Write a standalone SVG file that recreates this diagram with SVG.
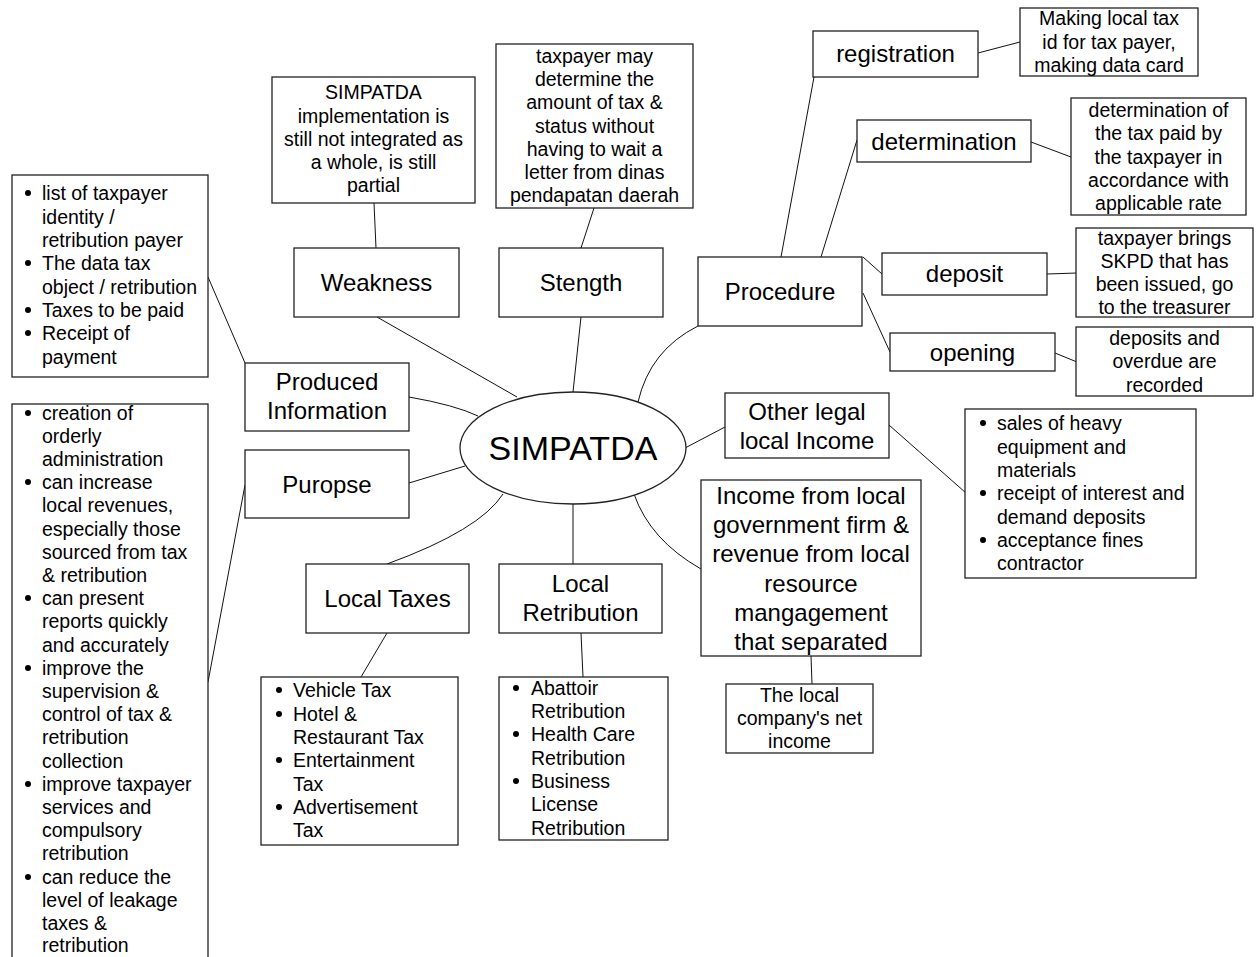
<svg xmlns="http://www.w3.org/2000/svg" width="1257" height="957" viewBox="0 0 1257 957">
<style>
.b{fill:#fff;stroke:#222;stroke-width:1.3}
.c{fill:none;stroke:#111;stroke-width:1}
text{font-family:"Liberation Sans",Arial,sans-serif;fill:#000}
.L{font-size:24px;text-anchor:middle;dominant-baseline:central}
.s{font-size:19.5px;text-anchor:middle;dominant-baseline:central}
.t{font-size:19.5px;dominant-baseline:central}
.big{font-size:34px;text-anchor:middle;dominant-baseline:central}
</style>
<rect width="1257" height="957" fill="#fff"/>
<g id="connectors">
<line class="c" x1="374" y1="203" x2="376" y2="248"/>
<line class="c" x1="594" y1="208" x2="581" y2="248"/>
<line class="c" x1="377" y1="317" x2="517" y2="397"/>
<line class="c" x1="581" y1="317" x2="573" y2="392"/>
<path class="c" d="M698,326 Q650,350 638,402"/>
<line class="c" x1="781" y1="257" x2="814" y2="77"/>
<line class="c" x1="821" y1="257" x2="857" y2="140"/>
<line class="c" x1="863" y1="257" x2="882" y2="274"/>
<line class="c" x1="863" y1="293" x2="890" y2="352"/>
<line class="c" x1="978" y1="53" x2="1020" y2="42"/>
<line class="c" x1="1031" y1="142" x2="1071" y2="157"/>
<line class="c" x1="1047" y1="274" x2="1077" y2="273"/>
<line class="c" x1="1055" y1="353" x2="1077" y2="362"/>
<line class="c" x1="725" y1="427" x2="685" y2="448"/>
<line class="c" x1="889" y1="425" x2="966" y2="493"/>
<path class="c" d="M701,569 Q650,540 634,494"/>
<line class="c" x1="811" y1="656" x2="812" y2="684"/>
<line class="c" x1="573" y1="564" x2="573" y2="504"/>
<line class="c" x1="581" y1="633" x2="583" y2="677"/>
<path class="c" d="M387,564 Q480,530 503,494"/>
<line class="c" x1="387" y1="633" x2="361" y2="677"/>
<path class="c" d="M409,397 Q455,405 478,416"/>
<line class="c" x1="409" y1="483" x2="465" y2="466"/>
<line class="c" x1="208" y1="277" x2="245" y2="363"/>
<line class="c" x1="245" y1="485" x2="208" y2="682"/>
</g>
<g id="center">
<ellipse class="b" cx="573" cy="448" rx="113" ry="56"/>
<text class="big" x="573" y="448">SIMPATDA</text>
</g>
<g id="weakness-note">
<rect class="b" x="272" y="77" width="203" height="126"/>
<text class="s" x="373.5" y="92">SIMPATDA</text>
<text class="s" x="373.5" y="116">implementation is</text>
<text class="s" x="373.5" y="139">still not integrated as</text>
<text class="s" x="373.5" y="162">a whole, is still</text>
<text class="s" x="373.5" y="185">partial</text>
</g>
<g id="strength-note">
<rect class="b" x="496" y="44" width="197" height="164"/>
<text class="s" x="594.5" y="56">taxpayer may</text>
<text class="s" x="594.5" y="79">determine the</text>
<text class="s" x="594.5" y="102">amount of tax &amp;</text>
<text class="s" x="594.5" y="126">status without</text>
<text class="s" x="594.5" y="149">having to wait a</text>
<text class="s" x="594.5" y="172">letter from dinas</text>
<text class="s" x="594.5" y="195">pendapatan daerah</text>
</g>
<g id="weakness">
<rect class="b" x="294" y="248" width="165" height="69"/>
<text class="L" x="376.5" y="282">Weakness</text>
</g>
<g id="strength">
<rect class="b" x="499" y="248" width="164" height="69"/>
<text class="L" x="581" y="282">Stength</text>
</g>
<g id="procedure">
<rect class="b" x="698" y="257" width="164" height="69"/>
<text class="L" x="780" y="291">Procedure</text>
</g>
<g id="registration">
<rect class="b" x="813" y="31" width="165" height="46"/>
<text class="L" x="895.5" y="53">registration</text>
</g>
<g id="registration-note">
<rect class="b" x="1020" y="8" width="178" height="68"/>
<text class="s" x="1109" y="18">Making local tax</text>
<text class="s" x="1109" y="42">id for tax payer,</text>
<text class="s" x="1109" y="65">making data card</text>
</g>
<g id="determination">
<rect class="b" x="857" y="120" width="174" height="42"/>
<text class="L" x="944" y="141">determination</text>
</g>
<g id="determination-note">
<rect class="b" x="1071" y="98" width="175" height="117"/>
<text class="s" x="1158.5" y="110">determination of</text>
<text class="s" x="1158.5" y="133">the tax paid by</text>
<text class="s" x="1158.5" y="157">the taxpayer in</text>
<text class="s" x="1158.5" y="180">accordance with</text>
<text class="s" x="1158.5" y="203">applicable rate</text>
</g>
<g id="deposit">
<rect class="b" x="882" y="253" width="165" height="42"/>
<text class="L" x="964.5" y="273">deposit</text>
</g>
<g id="deposit-note">
<rect class="b" x="1076" y="228" width="177" height="89"/>
<text class="s" x="1164.5" y="238">taxpayer brings</text>
<text class="s" x="1164.5" y="261">SKPD that has</text>
<text class="s" x="1164.5" y="284">been issued, go</text>
<text class="s" x="1164.5" y="307">to the treasurer</text>
</g>
<g id="opening">
<rect class="b" x="890" y="333" width="165" height="38"/>
<text class="L" x="972.5" y="352">opening</text>
</g>
<g id="opening-note">
<rect class="b" x="1076" y="327" width="177" height="69"/>
<text class="s" x="1164.5" y="338">deposits and</text>
<text class="s" x="1164.5" y="361">overdue are</text>
<text class="s" x="1164.5" y="385">recorded</text>
</g>
<g id="other-income">
<rect class="b" x="725" y="393" width="164" height="65"/>
<text class="L" x="807" y="411">Other legal</text>
<text class="L" x="807" y="440">local Income</text>
</g>
<g id="other-income-list">
<rect class="b" x="965" y="409" width="231" height="169"/>
<circle cx="983" cy="423" r="3"/><text class="t" x="997" y="423">sales of heavy</text>
<text class="t" x="997" y="447">equipment and</text>
<text class="t" x="997" y="470">materials</text>
<circle cx="983" cy="493" r="3"/><text class="t" x="997" y="493">receipt of interest and</text>
<text class="t" x="997" y="517">demand deposits</text>
<circle cx="983" cy="540" r="3"/><text class="t" x="997" y="540">acceptance fines</text>
<text class="t" x="997" y="563">contractor</text>
</g>
<g id="firm-income">
<rect class="b" x="701" y="480" width="220" height="176"/>
<text class="L" x="811" y="495">Income from local</text>
<text class="L" x="811" y="524">government firm &amp;</text>
<text class="L" x="811" y="553">revenue from local</text>
<text class="L" x="811" y="583">resource</text>
<text class="L" x="811" y="612">mangagement</text>
<text class="L" x="811" y="641">that separated</text>
</g>
<g id="firm-note">
<rect class="b" x="726" y="684" width="147" height="69"/>
<text class="s" x="799.5" y="695">The local</text>
<text class="s" x="799.5" y="718">company's net</text>
<text class="s" x="799.5" y="741">income</text>
</g>
<g id="local-retribution">
<rect class="b" x="499" y="564" width="163" height="69"/>
<text class="L" x="580.5" y="583">Local</text>
<text class="L" x="580.5" y="612">Retribution</text>
</g>
<g id="retribution-list">
<rect class="b" x="499" y="677" width="169" height="163"/>
<circle cx="516" cy="688" r="3"/><text class="t" x="531" y="688">Abattoir</text>
<text class="t" x="531" y="711">Retribution</text>
<circle cx="516" cy="734" r="3"/><text class="t" x="531" y="734">Health Care</text>
<text class="t" x="531" y="758">Retribution</text>
<circle cx="516" cy="781" r="3"/><text class="t" x="531" y="781">Business</text>
<text class="t" x="531" y="804">License</text>
<text class="t" x="531" y="828">Retribution</text>
</g>
<g id="local-taxes">
<rect class="b" x="306" y="564" width="163" height="69"/>
<text class="L" x="387.5" y="598">Local Taxes</text>
</g>
<g id="taxes-list">
<rect class="b" x="261" y="677" width="197" height="168"/>
<circle cx="279" cy="690" r="3"/><text class="t" x="293" y="690">Vehicle Tax</text>
<circle cx="279" cy="714" r="3"/><text class="t" x="293" y="714">Hotel &amp;</text>
<text class="t" x="293" y="737">Restaurant Tax</text>
<circle cx="279" cy="760" r="3"/><text class="t" x="293" y="760">Entertainment</text>
<text class="t" x="293" y="784">Tax</text>
<circle cx="279" cy="807" r="3"/><text class="t" x="293" y="807">Advertisement</text>
<text class="t" x="293" y="830">Tax</text>
</g>
<g id="produced-information">
<rect class="b" x="245" y="363" width="164" height="68"/>
<text class="L" x="327" y="381">Produced</text>
<text class="L" x="327" y="410">Information</text>
</g>
<g id="information-list">
<rect class="b" x="12" y="175" width="196" height="202"/>
<circle cx="28" cy="193" r="3"/><text class="t" x="42" y="193">list of taxpayer</text>
<text class="t" x="42" y="217">identity /</text>
<text class="t" x="42" y="240">retribution payer</text>
<circle cx="28" cy="263" r="3"/><text class="t" x="42" y="263">The data tax</text>
<text class="t" x="42" y="287">object / retribution</text>
<circle cx="28" cy="310" r="3"/><text class="t" x="42" y="310">Taxes to be paid</text>
<circle cx="28" cy="333" r="3"/><text class="t" x="42" y="333">Receipt of</text>
<text class="t" x="42" y="357">payment</text>
</g>
<g id="purpose">
<rect class="b" x="245" y="450" width="164" height="68"/>
<text class="L" x="327" y="484">Puropse</text>
</g>
<g id="purpose-list">
<rect class="b" x="12" y="404" width="196" height="570"/>
<circle cx="28" cy="413" r="3"/><text class="t" x="42" y="413">creation of</text>
<text class="t" x="42" y="436">orderly</text>
<text class="t" x="42" y="459">administration</text>
<circle cx="28" cy="482" r="3"/><text class="t" x="42" y="482">can increase</text>
<text class="t" x="42" y="505">local revenues,</text>
<text class="t" x="42" y="529">especially those</text>
<text class="t" x="42" y="552">sourced from tax</text>
<text class="t" x="42" y="575">&amp; retribution</text>
<circle cx="28" cy="598" r="3"/><text class="t" x="42" y="598">can present</text>
<text class="t" x="42" y="621">reports quickly</text>
<text class="t" x="42" y="645">and accurately</text>
<circle cx="28" cy="668" r="3"/><text class="t" x="42" y="668">improve the</text>
<text class="t" x="42" y="691">supervision &amp;</text>
<text class="t" x="42" y="714">control of tax &amp;</text>
<text class="t" x="42" y="737">retribution</text>
<text class="t" x="42" y="761">collection</text>
<circle cx="28" cy="784" r="3"/><text class="t" x="42" y="784">improve taxpayer</text>
<text class="t" x="42" y="807">services and</text>
<text class="t" x="42" y="830">compulsory</text>
<text class="t" x="42" y="853">retribution</text>
<circle cx="28" cy="877" r="3"/><text class="t" x="42" y="877">can reduce the</text>
<text class="t" x="42" y="900">level of leakage</text>
<text class="t" x="42" y="923">taxes &amp;</text>
<text class="t" x="42" y="945">retribution</text>
</g>
</svg>
